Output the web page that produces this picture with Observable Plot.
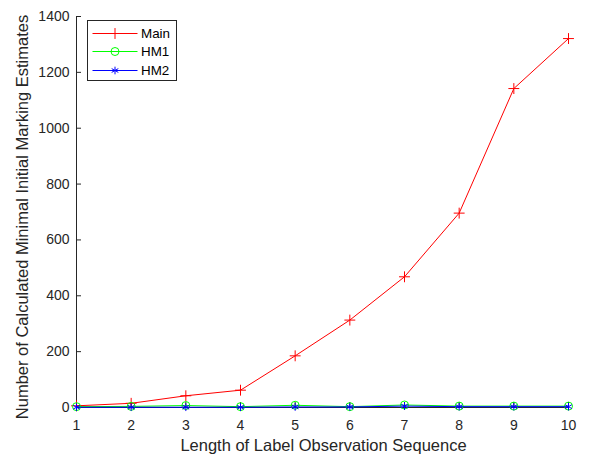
<!DOCTYPE html>
<html>
<head>
<meta charset="utf-8">
<script src="https://cdn.jsdelivr.net/npm/d3@7"></script>
<script src="https://cdn.jsdelivr.net/npm/@observablehq/plot@0.6"></script>
<style>
  html, body { margin: 0; padding: 0; background: #fff; }
  #wrap { position: relative; width: 590px; height: 457px; font-family: "Liberation Sans", Arial, sans-serif; }
  #legend { position: absolute; left: 87px; top: 20px; width: 90px; height: 61px; border: 1px solid #262626; background: #fff; box-sizing: border-box; }
  #legend .row { position: absolute; left: 0; height: 19px; display: flex; align-items: center; font-size: 13.4px; color: #000; }
  #legend svg { display: block; }
</style>
</head>
<body>
<div id="wrap"></div>
<script>
const lengths = [1, 2, 3, 4, 5, 6, 7, 8, 9, 10];
const mainValues = [6, 15, 42, 62, 185, 313, 468, 696, 1142, 1321];
const hm1Values = [3, 4, 7, 3, 8, 3, 9, 5, 5, 5];
const hm2Values = [1, 1, 1, 1, 2, 2, 5, 3, 3, 3];
const seriesNames = ["Main", "HM1", "HM2"];
const seriesColors = ["#ff0000", "#00ff00", "#0000ff"];
const seriesSymbols = ["plus", "circle", "asterisk"];
const yTicks = [0, 200, 400, 600, 800, 1000, 1200, 1400];
const xTicks = lengths;
const xLabel = "Length of Label Observation Sequence";
const yLabel = "Number of Calculated Minimal Initial Marking Estimates";

const allValues = [mainValues, hm1Values, hm2Values];
const rows = [];
seriesNames.forEach((name, i) => {
  lengths.forEach((x, j) => rows.push({series: name, x, y: allValues[i][j]}));
});

const axisColor = "#262626";
const font = "Liberation Sans, Arial, sans-serif";

const marks = [];
marks.push(Plot.ruleX([1], {stroke: axisColor, strokeWidth: 1}));
marks.push(Plot.ruleY([0], {stroke: axisColor, strokeWidth: 1}));
marks.push(Plot.axisY(yTicks, {tickSize: -5, tickPadding: 12, fontSize: 14, fill: axisColor, stroke: axisColor, tickFormat: d => String(d), label: null}));
marks.push(Plot.axisX(xTicks, {tickSize: -5, tickPadding: 18, fontSize: 14, fill: axisColor, stroke: axisColor, tickFormat: d => String(d), label: null}));
marks.push(Plot.text([xLabel], {frameAnchor: "bottom", text: d => d, fontSize: 16.5, fill: axisColor, textAnchor: "middle", lineAnchor: "middle", dx: 1, dy: 38.4}));
marks.push(Plot.text([yLabel], {frameAnchor: "left", text: d => d, fontSize: 16.5, fill: axisColor, textAnchor: "middle", lineAnchor: "middle", rotate: -90, dx: -53.8, dy: 5}));
seriesNames.forEach((name, i) => {
  const data = rows.filter(r => r.series === name);
  marks.push(Plot.line(data, {x: "x", y: "y", stroke: seriesColors[i], strokeWidth: 1}));
  marks.push(Plot.dot(data, {x: "x", y: "y", symbol: () => seriesSymbols[i], stroke: seriesColors[i], fill: "none", r: seriesSymbols[i] === "circle" ? 4 : 3.6, strokeWidth: 1}));
});

const chart = Plot.plot({
  width: 590,
  height: 457,
  marginLeft: 76,
  marginRight: 22,
  marginTop: 16,
  marginBottom: 50,
  style: {fontFamily: font, fontSize: "14px", background: "#fff", color: axisColor},
  x: {domain: [1, 10], axis: null},
  y: {domain: [0, 1400], axis: null},
  symbol: {type: "identity"},
  marks
});
document.getElementById("wrap").appendChild(chart);

// legend (HTML overlay)
const legend = document.createElement("div");
legend.id = "legend";
seriesNames.forEach((name, i) => {
  const row = document.createElement("div");
  row.className = "row";
  row.style.top = (2.5 + i * 18.5) + "px";
  const ns = "http://www.w3.org/2000/svg";
  const svg = document.createElementNS(ns, "svg");
  svg.setAttribute("width", "52");
  svg.setAttribute("height", "19");
  const line = document.createElementNS(ns, "line");
  line.setAttribute("x1", "4.5"); line.setAttribute("x2", "49.5");
  line.setAttribute("y1", "9.5"); line.setAttribute("y2", "9.5");
  line.setAttribute("stroke", seriesColors[i]);
  svg.appendChild(line);
  const sym = {plus: d3.symbolPlus, circle: d3.symbolCircle, asterisk: d3.symbolAsterisk}[seriesSymbols[i]];
  const r = seriesSymbols[i] === "circle" ? 4 : 3.6;
  const p = document.createElementNS(ns, "path");
  p.setAttribute("d", d3.symbol(sym, Math.PI * r * r)());
  p.setAttribute("transform", "translate(27,9.5)");
  p.setAttribute("fill", "none");
  p.setAttribute("stroke", seriesColors[i]);
  svg.appendChild(p);
  row.appendChild(svg);
  const label = document.createElement("span");
  label.textContent = name;
  label.style.marginLeft = "1px";
  row.appendChild(label);
  legend.appendChild(row);
});
document.getElementById("wrap").appendChild(legend);
</script>
</body>
</html>
